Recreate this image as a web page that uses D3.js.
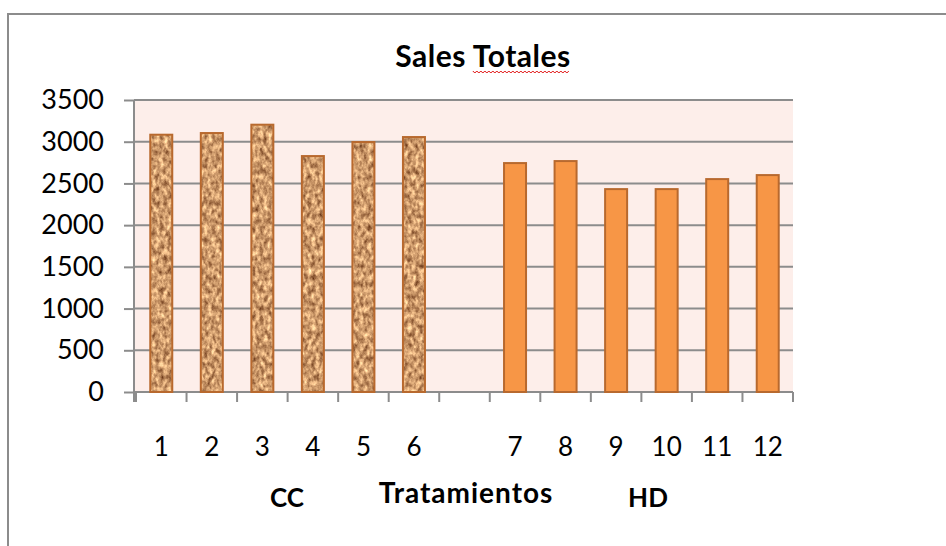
<!DOCTYPE html>
<html>
<head>
<meta charset="utf-8">
<script src="https://cdnjs.cloudflare.com/ajax/libs/d3/7.8.5/d3.min.js"></script>
<style>
  body { margin: 0; background: #fff; }
  text { font-family: Lato, "Open Sans", sans-serif; fill: #000; }
</style>
</head>
<body>
<svg class="chart"></svg>
<script>
var width = 946;
var height = 546;
var plot = {left: 134, right: 793, top: 100, bottom: 392};

// treatments, the blank slot is the gap between the two groups
var categories = ["1", "2", "3", "4", "5", "6", "", "7", "8", "9", "10", "11", "12"];
var ccLabels = ["1", "2", "3", "4", "5", "6"];
var hdLabels = ["7", "8", "9", "10", "11", "12"];
var ccValues = [3084, 3104, 3204, 2828, 2996, 3056];
var hdValues = [2744, 2768, 2432, 2432, 2552, 2600];
var yTicks = [0, 500, 1000, 1500, 2000, 2500, 3000, 3500];
var groupLabels = ["CC", "Tratamientos", "HD"];
var groupX = [287, 466, 648];

var svg = d3.select(".chart")
    .attr("width", width)
    .attr("height", height);

// cork-like texture for the CC bars
var defs = svg.append("defs");
var cork = defs.append("filter")
    .attr("id", "cork")
    .attr("color-interpolation-filters", "sRGB")
    .attr("x", 0).attr("y", 0).attr("width", 1).attr("height", 1);
cork.append("feTurbulence")
    .attr("type", "fractalNoise")
    .attr("baseFrequency", "0.25 0.16")
    .attr("numOctaves", 3)
    .attr("seed", 7)
    .attr("result", "noise");
cork.append("feColorMatrix")
    .attr("in", "noise")
    .attr("type", "matrix")
    .attr("values", "0.95 0 0 0 0.33  0.95 0 0 0 0.13  0.8 0 0 0 0.02  0 0 0 0 1")
    .attr("result", "tint");
cork.append("feComposite")
    .attr("in", "tint")
    .attr("in2", "SourceGraphic")
    .attr("operator", "in");

// outer chart border (only top and left visible)
svg.append("path")
    .attr("d", "M8," + height + "V14H" + width)
    .attr("fill", "none")
    .attr("stroke", "#8c8c8c")
    .attr("stroke-width", 2);

var x = d3.scaleBand()
    .domain(categories)
    .range([plot.left + 2, plot.right]);

var y = d3.scaleLinear()
    .domain([0, 3500])
    .range([plot.bottom, plot.top]);

svg.append("rect")
    .attr("x", plot.left)
    .attr("y", plot.top)
    .attr("width", plot.right - plot.left)
    .attr("height", plot.bottom - plot.top)
    .attr("fill", "#fdeeea");

// gridlines
svg.append("g")
    .selectAll("line")
    .data(yTicks)
    .enter().append("line")
    .attr("x1", plot.left)
    .attr("x2", plot.right)
    .attr("y1", function(d) { return y(d); })
    .attr("y2", function(d) { return y(d); })
    .attr("stroke", "#8c8c8c")
    .attr("stroke-width", 2);

// y axis
var yAxis = d3.axisLeft(y)
    .tickValues(yTicks)
    .tickFormat(d3.format("d"))
    .tickSize(10)
    .tickPadding(20);

var gy = svg.append("g")
    .attr("transform", "translate(" + plot.left + ",0)")
    .call(yAxis);
gy.select(".domain").attr("stroke", "#8c8c8c").attr("stroke-width", 2)
    .attr("d", "M0," + plot.top + "V" + (plot.bottom + 10));
gy.selectAll(".tick line").attr("stroke", "#8c8c8c").attr("stroke-width", 2);
gy.selectAll(".tick text").style("font-size", "27px").style("font-family", "Lato, sans-serif");

// x axis: ticks sit on the category boundaries
var boundaries = categories.map(function(d) { return x(d); }).concat([x.range()[1]]);
svg.append("line")
    .attr("x1", plot.left)
    .attr("x2", plot.right)
    .attr("y1", plot.bottom)
    .attr("y2", plot.bottom)
    .attr("stroke", "#8c8c8c")
    .attr("stroke-width", 2);
svg.append("g")
    .selectAll("line")
    .data(boundaries)
    .enter().append("line")
    .attr("x1", function(d) { return d; })
    .attr("x2", function(d) { return d; })
    .attr("y1", plot.bottom)
    .attr("y2", plot.bottom + 10)
    .attr("stroke", "#8c8c8c")
    .attr("stroke-width", 2);

svg.append("g")
    .selectAll("text")
    .data(ccLabels.concat(hdLabels))
    .enter().append("text")
    .attr("x", function(d) { return x(d) + x.bandwidth() / 2; })
    .attr("y", 456)
    .attr("text-anchor", "middle")
    .style("font-size", "26px")
    .text(function(d) { return d; });

var barW = 22;

// CC bars: textured fill, then outline
var cc = svg.append("g");
cc.selectAll("rect.fill")
    .data(ccValues)
    .enter().append("rect")
    .attr("class", "fill")
    .attr("x", function(d, i) { return x(ccLabels[i]) + x.bandwidth() / 2 - barW / 2; })
    .attr("y", function(d) { return y(d); })
    .attr("width", barW)
    .attr("height", function(d) { return y(0) - y(d); })
    .attr("fill", "#c98f5c")
    .attr("filter", "url(#cork)");
cc.selectAll("rect.edge")
    .data(ccValues)
    .enter().append("rect")
    .attr("class", "edge")
    .attr("x", function(d, i) { return x(ccLabels[i]) + x.bandwidth() / 2 - barW / 2; })
    .attr("y", function(d) { return y(d); })
    .attr("width", barW)
    .attr("height", function(d) { return y(0) - y(d); })
    .attr("fill", "none")
    .attr("stroke", "#b8692e")
    .attr("stroke-width", 2);

svg.append("g")
    .selectAll("rect")
    .data(hdValues)
    .enter().append("rect")
    .attr("x", function(d, i) { return x(hdLabels[i]) + x.bandwidth() / 2 - barW / 2; })
    .attr("y", function(d) { return y(d); })
    .attr("width", barW)
    .attr("height", function(d) { return y(0) - y(d); })
    .attr("fill", "#f79646")
    .attr("stroke", "#b8692e")
    .attr("stroke-width", 2);

// group labels under the axis
svg.append("g")
    .selectAll("text")
    .data(groupLabels)
    .enter().append("text")
    .attr("x", function(d, i) { return groupX[i]; })
    .attr("y", function(d, i) { return i == 1 ? 503 : 507; })
    .attr("text-anchor", "middle")
    .style("font-size", function(d, i) { return i == 1 ? "28px" : "26px"; })
    .style("font-weight", "bold")
    .style("letter-spacing", function(d, i) { return i == 1 ? "1px" : "0px"; })
    .text(function(d) { return d; });

// title with the spell-check squiggle under "Totales"
var title = svg.append("text")
    .attr("x", 483)
    .attr("y", 67)
    .attr("text-anchor", "middle")
    .style("font-size", "30px")
    .style("font-weight", "bold")
    .style("letter-spacing", "0.5px")
    .text("Sales Totales");

var tNode = title.node();
var sqStart = tNode.getStartPositionOfChar(6).x;
var sqEnd = tNode.getEndPositionOfChar(12).x;
var squiggle = "M" + sqStart + ",71";
var steps = Math.floor((sqEnd - sqStart) / 4);
for (var i = 0; i < steps; i++) {
    squiggle += "l2,2l2,-2";
}
svg.append("path")
    .attr("d", squiggle)
    .attr("fill", "none")
    .attr("stroke", "#e01010")
    .attr("stroke-width", 1);
</script>
</body>
</html>
